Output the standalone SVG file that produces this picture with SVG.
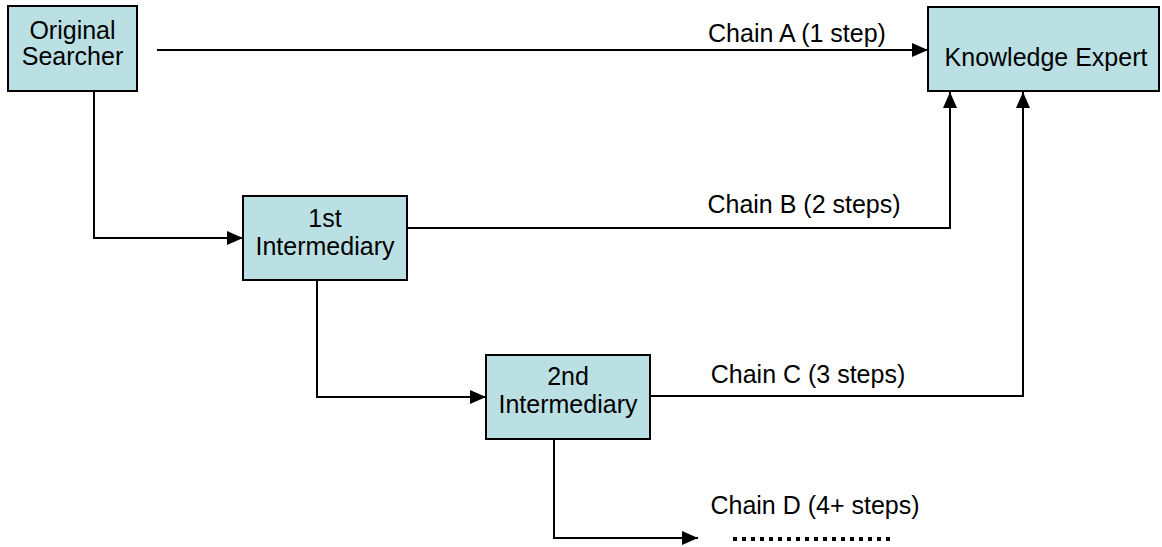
<svg xmlns="http://www.w3.org/2000/svg" width="1162" height="547" viewBox="0 0 1162 547">
<style>
.box{fill:#BBE0E3;stroke:#000;stroke-width:2}
.t{font-family:"Liberation Sans",Arial,sans-serif;font-size:25px;fill:#000;text-anchor:middle}
.c{fill:none;stroke:#000;stroke-width:2}
</style>
<defs>
<marker id="ah" markerUnits="userSpaceOnUse" markerWidth="16" markerHeight="14" refX="16" refY="7" orient="auto">
<path d="M0,0 L16,7 L0,14 z" fill="#000"/>
</marker>
</defs>
<rect width="1162" height="547" fill="#fff"/>
<g id="connectors">
<path class="c" d="M157,50 H928" marker-end="url(#ah)"/>
<path class="c" d="M94,91 V238 H243" marker-end="url(#ah)"/>
<path class="c" d="M408,228 H950 V92" marker-end="url(#ah)"/>
<path class="c" d="M317,280 V397 H486" marker-end="url(#ah)"/>
<path class="c" d="M650,396 H1023 V92" marker-end="url(#ah)"/>
<path class="c" d="M554,439 V538 H698" marker-end="url(#ah)"/>
<path d="M733,539 H890" stroke="#000" stroke-width="4" stroke-dasharray="4 5" fill="none"/>
<text class="t" x="797" y="42">Chain A (1 step)</text>
<text class="t" x="804" y="213">Chain B (2 steps)</text>
<text class="t" x="808" y="383">Chain C (3 steps)</text>
<text class="t" x="815" y="514">Chain D (4+ steps)</text>
</g>
<g id="original-searcher">
<rect class="box" x="8" y="6" width="129" height="85"/>
<text class="t" x="72.5" y="39">Original</text>
<text class="t" x="72.5" y="65">Searcher</text>
</g>
<g id="knowledge-expert">
<rect class="box" x="928" y="7" width="231" height="84"/>
<text class="t" x="1046" y="66">Knowledge Expert</text>
</g>
<g id="first-intermediary">
<rect class="box" x="243" y="196" width="164" height="84"/>
<text class="t" x="325" y="227">1st</text>
<text class="t" x="325" y="255">Intermediary</text>
</g>
<g id="second-intermediary">
<rect class="box" x="486" y="355" width="164" height="84"/>
<text class="t" x="568" y="385">2nd</text>
<text class="t" x="568" y="413">Intermediary</text>
</g>
</svg>
